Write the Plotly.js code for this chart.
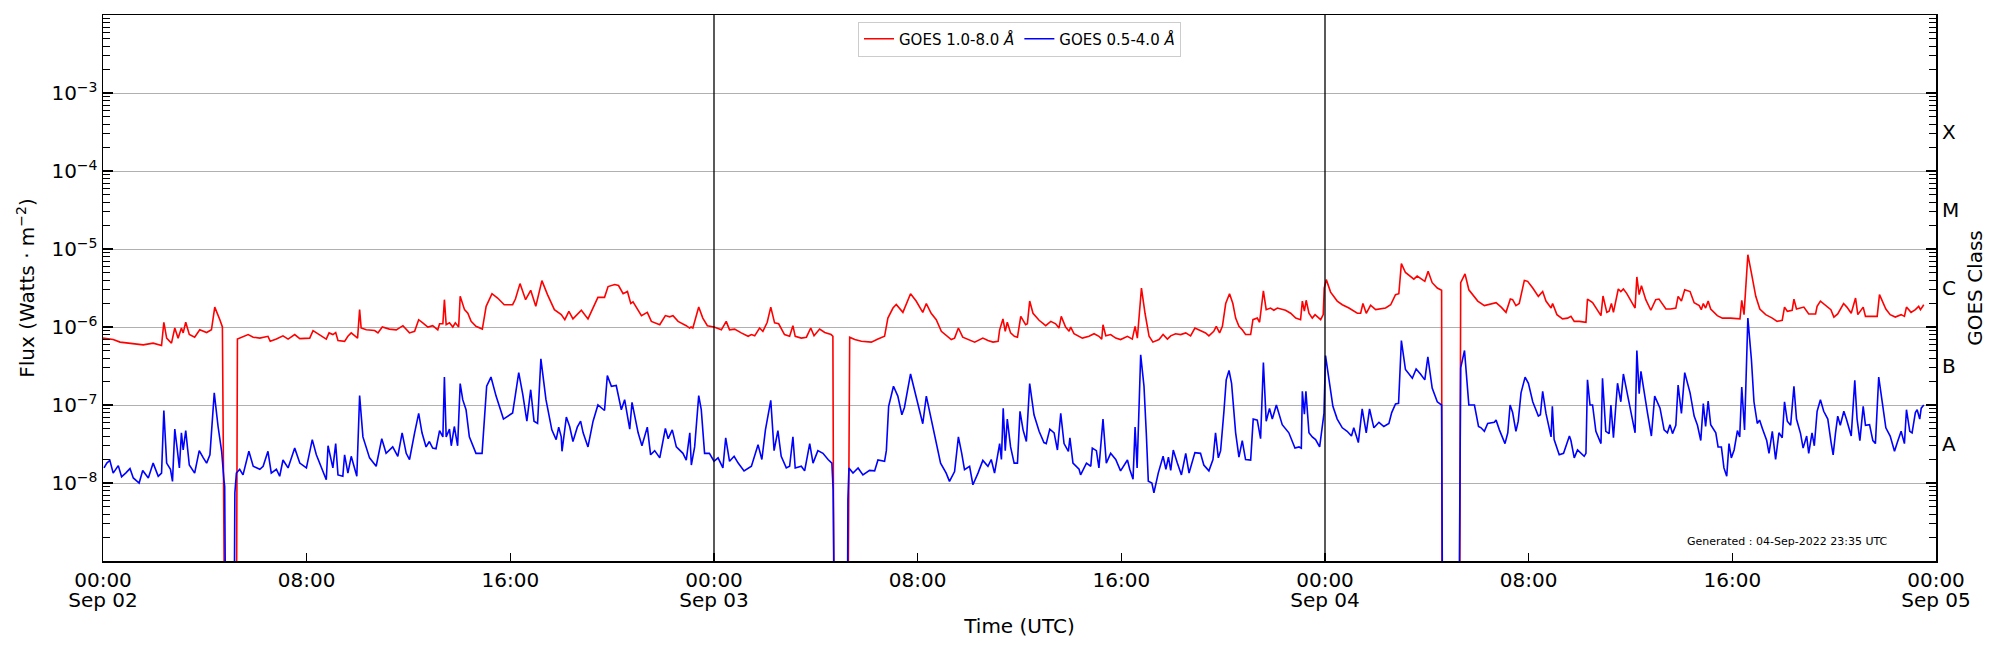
<!DOCTYPE html>
<html>
<head>
<meta charset="utf-8">
<script src="https://cdn.plot.ly/plotly-3.0.1.min.js"></script>
<style>html,body{margin:0;padding:0;background:#fff;}#chart{width:2000px;height:650px;}</style>
</head>
<body>
<div id="chart"></div>
<script>
// Hours since 2022-09-02 00:00 UTC, and flux (W/m^2). 1e-10 marks data dropouts (below the axis).
const redHours = [0.0,0.4,0.67,1.19,1.58,1.97,2.3,2.39,2.5,2.69,2.82,2.95,3.08,3.15,3.25,3.39,3.6,3.8,4.07,4.26,4.39,4.59,4.69,4.78,5.24,5.28,5.37,5.7,5.9,6.16,6.48,6.57,6.81,7.07,7.27,7.53,7.73,8.12,8.25,8.51,8.77,8.88,9.03,9.14,9.23,9.49,9.62,9.75,10.0,10.08,10.14,10.34,10.67,10.8,10.97,11.25,11.52,11.78,12.04,12.24,12.4,12.56,12.76,12.95,13.15,13.22,13.35,13.41,13.48,13.61,13.74,13.84,13.97,14.03,14.2,14.33,14.46,14.65,14.9,15.05,15.28,15.5,15.76,16.09,16.2,16.38,16.6,16.8,17.0,17.24,17.46,17.73,17.9,18.0,18.14,18.3,18.46,18.79,19.05,19.44,19.7,19.84,20.1,20.25,20.43,20.6,20.73,20.82,21.15,21.38,21.54,21.87,22.09,22.26,22.39,22.59,22.91,23.04,23.1,23.17,23.4,23.56,23.74,24.0,24.29,24.48,24.61,24.81,25.07,25.34,25.47,25.6,25.79,25.92,26.09,26.23,26.38,26.54,26.77,26.97,27.1,27.19,27.43,27.63,27.8,27.93,28.15,28.35,28.6,28.67,28.71,29.26,29.33,29.53,29.79,30.18,30.44,30.7,30.83,31.03,31.16,31.42,31.72,31.94,32.2,32.34,32.53,32.73,32.93,33.32,33.45,33.6,33.77,33.97,34.24,34.56,34.76,34.96,35.16,35.22,35.35,35.44,35.52,35.65,35.8,35.92,36.05,36.24,36.31,36.4,36.53,36.77,37.03,37.23,37.42,37.55,37.64,37.81,37.95,38.01,38.14,38.47,38.73,38.93,39.12,39.23,39.28,39.39,39.58,39.78,39.97,40.24,40.43,40.54,40.63,40.79,40.93,41.09,41.24,41.48,41.64,41.81,41.94,42.13,42.33,42.53,42.72,42.89,43.11,43.31,43.44,43.63,43.73,43.86,43.97,44.1,44.25,44.38,44.49,44.62,44.75,44.88,45.08,45.17,45.34,45.43,45.58,45.69,45.86,45.99,46.13,46.45,46.65,46.85,47.04,47.11,47.19,47.26,47.37,47.5,47.61,47.83,47.93,47.97,48.05,48.22,48.48,48.68,48.94,49.27,49.4,49.49,49.62,49.79,49.99,50.38,50.58,50.77,50.9,51.0,51.16,51.49,51.62,51.82,51.92,52.05,52.21,52.41,52.58,52.6,53.29,53.33,53.5,53.65,53.87,54.0,54.26,54.52,54.72,54.92,55.11,55.28,55.37,55.5,55.63,55.83,55.96,56.16,56.38,56.55,56.68,56.88,56.94,57.11,57.33,57.53,57.66,57.79,57.99,58.25,58.31,58.51,58.68,58.84,58.92,59.07,59.16,59.25,59.33,59.52,59.62,59.72,59.85,60.01,60.18,60.25,60.34,60.43,60.6,60.8,60.99,61.12,61.39,61.58,61.78,61.87,62.0,62.13,62.34,62.5,62.7,62.78,62.86,62.95,63.05,63.15,63.41,63.61,63.93,64.3,64.37,64.46,64.61,64.75,64.92,65.08,65.31,65.57,65.76,65.96,66.05,66.16,66.35,66.42,66.52,66.81,67.0,67.27,67.33,67.46,67.66,67.87,67.99,68.14,68.37,68.5,68.67,68.84,68.93,69.06,69.14,69.23,69.42,69.69,69.78,70.03,70.2,70.4,70.63,70.76,70.84,71.02,71.19,71.32,71.39,71.52];
const redFlux = [7.2e-7,6.9e-7,6.4e-7,6.1e-7,5.9e-7,6.2e-7,5.8e-7,1.15e-6,7.2e-7,6.2e-7,9.7e-7,7.2e-7,9.7e-7,8.4e-7,1.15e-6,8.0e-7,7.4e-7,9.2e-7,8.5e-7,9.2e-7,1.8e-6,1.24e-6,1.0e-6,1e-10,1e-10,7.0e-7,7.2e-7,8.0e-7,7.4e-7,7.2e-7,7.6e-7,6.55e-7,7.0e-7,7.7e-7,7.0e-7,8.0e-7,7.1e-7,7.2e-7,9.0e-7,8.0e-7,7.0e-7,8.4e-7,8.0e-7,8.5e-7,6.7e-7,6.55e-7,7.6e-7,8.4e-7,7.2e-7,1.67e-6,9.7e-7,9.2e-7,9.0e-7,8.4e-7,1.0e-6,9.4e-7,9.2e-7,1.04e-6,8.4e-7,8.8e-7,1.24e-6,1.13e-6,1.0e-6,1.04e-6,9.2e-7,1.1e-6,1.1e-6,2.24e-6,1.07e-6,1.13e-6,1.0e-6,1.13e-6,1.0e-6,2.47e-6,1.67e-6,1.5e-6,1.18e-6,1.02e-6,9.4e-7,1.84e-6,2.67e-6,2.35e-6,1.93e-6,1.93e-6,2.28e-6,3.6e-6,2.24e-6,2.95e-6,1.84e-6,3.93e-6,2.6e-6,1.67e-6,1.5e-6,1.44e-6,1.24e-6,1.59e-6,1.27e-6,1.64e-6,1.27e-6,2.4e-6,2.4e-6,3.3e-6,3.5e-6,3.4e-6,2.67e-6,2.85e-6,2.0e-6,2.1e-6,1.4e-6,1.54e-6,1.18e-6,1.07e-6,1.4e-6,1.35e-6,1.4e-6,1.18e-6,1.04e-6,9.7e-7,1.0e-6,9.7e-7,1.8e-6,1.3e-6,1.04e-6,1.0e-6,9.2e-7,1.18e-6,9.2e-7,9.4e-7,8.4e-7,7.6e-7,8.0e-7,7.7e-7,9.7e-7,8.8e-7,1.15e-6,1.8e-6,1.13e-6,1.1e-6,8.0e-7,7.6e-7,1.04e-6,7.6e-7,7.2e-7,7.4e-7,9.7e-7,7.7e-7,9.4e-7,8.5e-7,8.0e-7,7.6e-7,1e-10,1e-10,7.4e-7,6.9e-7,6.55e-7,6.4e-7,7.0e-7,7.6e-7,1.3e-6,1.75e-6,1.95e-6,1.54e-6,2.67e-6,2.15e-6,1.54e-6,2.0e-6,1.5e-6,1.24e-6,8.8e-7,6.9e-7,7.2e-7,9.7e-7,7.4e-7,7.0e-7,6.4e-7,7.2e-7,6.7e-7,6.4e-7,6.55e-7,9.2e-7,1.27e-6,8.8e-7,1.15e-6,8.4e-7,7.6e-7,7.4e-7,1.37e-6,1.07e-6,1.1e-6,2.15e-6,1.5e-6,1.22e-6,1.04e-6,1.18e-6,1.1e-6,9.7e-7,1.37e-6,1.0e-6,8.8e-7,1.0e-6,8.2e-7,7.2e-7,7.6e-7,8.2e-7,7.6e-7,7.0e-7,1.07e-6,7.7e-7,8.0e-7,7.2e-7,6.9e-7,7.6e-7,7.0e-7,1.02e-6,7.2e-7,3.16e-6,1.5e-6,7.6e-7,6.4e-7,6.9e-7,8.0e-7,7.0e-7,7.7e-7,8.2e-7,8.0e-7,8.4e-7,7.7e-7,9.7e-7,9.0e-7,8.4e-7,7.7e-7,8.8e-7,1.02e-6,8.4e-7,1.02e-6,2.0e-6,2.67e-6,2.0e-6,1.3e-6,1.02e-6,9.2e-7,8.0e-7,8.0e-7,1.24e-6,1.3e-6,1.15e-6,2.9e-6,1.67e-6,1.75e-6,1.64e-6,1.75e-6,1.64e-6,1.5e-6,1.3e-6,1.24e-6,2.15e-6,1.6e-6,2.2e-6,1.5e-6,1.3e-6,1.44e-6,1.24e-6,1.44e-6,3.16e-6,4.05e-6,2.8e-6,2.15e-6,1.93e-6,1.75e-6,1.5e-6,1.5e-6,2.0e-6,1.5e-6,1.9e-6,1.67e-6,1.75e-6,1.93e-6,2.6e-6,2.67e-6,6.5e-6,5.0e-6,4.1e-6,4.5e-6,4.1e-6,3.85e-6,5.2e-6,3.7e-6,3.16e-6,2.95e-6,1e-10,1e-10,3.7e-6,4.8e-6,3.0e-6,2.47e-6,2.15e-6,1.88e-6,2.0e-6,2.05e-6,1.8e-6,1.54e-6,2.28e-6,2.24e-6,1.88e-6,2.0e-6,3.96e-6,3.85e-6,3.16e-6,2.47e-6,2.85e-6,2.15e-6,1.75e-6,2.0e-6,1.44e-6,1.27e-6,1.3e-6,1.37e-6,1.18e-6,1.18e-6,1.15e-6,2.28e-6,2.05e-6,1.7e-6,1.4e-6,2.5e-6,1.54e-6,1.59e-6,2.0e-6,1.54e-6,3.07e-6,2.85e-6,3.07e-6,2.7e-6,2.15e-6,1.75e-6,4.38e-6,2.6e-6,3.38e-6,2.24e-6,1.64e-6,2.24e-6,2.28e-6,1.7e-6,1.7e-6,1.75e-6,2.47e-6,2.15e-6,3.0e-6,2.85e-6,2.05e-6,1.88e-6,1.67e-6,2.0e-6,1.75e-6,2.15e-6,1.7e-6,1.4e-6,1.3e-6,1.3e-6,1.27e-6,2.2e-6,1.44e-6,8.45e-6,4.9e-6,2.47e-6,1.7e-6,1.44e-6,1.3e-6,1.18e-6,1.22e-6,1.8e-6,1.59e-6,1.64e-6,2.28e-6,1.7e-6,1.8e-6,1.47e-6,1.47e-6,1.84e-6,2.15e-6,1.9e-6,1.67e-6,1.34e-6,1.47e-6,2.0e-6,1.8e-6,1.5e-6,2.35e-6,1.44e-6,1.64e-6,1.8e-6,1.37e-6,1.37e-6,1.37e-6,2.6e-6,1.7e-6,1.44e-6,1.34e-6,1.44e-6,1.37e-6,1.8e-6,1.54e-6,1.67e-6,1.84e-6,1.67e-6,1.93e-6];

const blueHours = [0.04,0.15,0.27,0.4,0.6,0.73,0.9,1.06,1.19,1.42,1.56,1.78,1.97,2.17,2.3,2.39,2.5,2.65,2.73,2.82,2.92,3.0,3.08,3.15,3.25,3.39,3.6,3.78,3.94,4.07,4.2,4.37,4.52,4.66,4.75,4.78,4.82,5.15,5.18,5.24,5.37,5.5,5.73,5.9,6.16,6.29,6.48,6.61,6.81,6.94,7.07,7.27,7.53,7.73,7.99,8.22,8.38,8.58,8.77,8.84,9.03,9.14,9.23,9.42,9.49,9.62,9.75,9.97,10.08,10.21,10.47,10.73,10.95,11.12,11.25,11.38,11.58,11.75,11.91,12.04,12.24,12.4,12.53,12.69,12.82,12.95,13.08,13.22,13.35,13.41,13.48,13.61,13.68,13.8,13.93,14.03,14.13,14.26,14.39,14.65,14.89,14.98,15.07,15.24,15.44,15.73,16.09,16.2,16.33,16.49,16.65,16.8,16.93,17.07,17.2,17.4,17.63,17.8,17.9,18.0,18.03,18.2,18.33,18.46,18.63,18.76,18.86,19.05,19.25,19.44,19.7,19.81,19.97,20.16,20.36,20.49,20.69,20.78,21.02,21.17,21.38,21.51,21.67,21.87,22.09,22.2,22.36,22.52,22.78,22.91,23.05,23.11,23.24,23.4,23.5,23.63,23.82,24.0,24.16,24.35,24.46,24.61,24.79,24.95,25.18,25.47,25.73,25.88,26.02,26.23,26.36,26.51,26.64,26.84,26.97,27.1,27.19,27.43,27.56,27.76,27.89,28.08,28.28,28.48,28.63,28.68,28.74,29.24,29.26,29.3,29.46,29.66,29.85,30.11,30.31,30.44,30.7,30.77,30.86,31.05,31.22,31.38,31.48,31.72,31.94,32.2,32.34,32.53,32.69,32.9,33.12,33.25,33.45,33.6,33.73,33.84,34.04,34.17,34.37,34.56,34.76,34.89,35.02,35.22,35.29,35.36,35.44,35.52,35.65,35.79,35.92,36.02,36.14,36.27,36.4,36.57,36.77,36.96,37.05,37.19,37.36,37.49,37.62,37.75,37.92,37.98,38.1,38.34,38.4,38.63,38.8,38.86,39.02,39.12,39.28,39.41,39.58,39.78,39.97,40.1,40.24,40.33,40.46,40.54,40.62,40.76,40.89,40.98,41.06,41.2,41.28,41.45,41.64,41.75,41.85,41.94,42.04,42.2,42.36,42.53,42.66,42.89,43.11,43.24,43.44,43.6,43.7,43.81,43.9,44.03,44.12,44.23,44.33,44.49,44.62,44.75,44.88,45.08,45.18,45.34,45.47,45.58,45.69,45.82,45.93,46.09,46.32,46.58,46.82,46.98,47.07,47.11,47.19,47.25,47.37,47.5,47.63,47.79,47.89,47.96,48.02,48.15,48.31,48.48,48.68,48.87,49.04,49.13,49.31,49.46,49.62,49.75,49.92,50.12,50.31,50.51,50.62,50.77,50.89,51.0,51.16,51.43,51.58,51.75,51.92,52.04,52.21,52.41,52.58,52.62,53.26,53.33,53.48,53.65,53.87,54.03,54.13,54.26,54.39,54.65,54.72,54.85,55.07,55.18,55.27,55.37,55.5,55.59,55.7,55.86,55.99,56.16,56.38,56.46,56.55,56.68,56.88,56.93,57.0,57.2,57.37,57.6,57.66,57.79,57.92,58.18,58.25,58.31,58.41,58.51,58.64,58.84,58.9,59.03,59.16,59.23,59.33,59.49,59.62,59.72,59.9,60.03,60.18,60.25,60.34,60.41,60.54,60.67,60.82,60.95,61.16,61.32,61.45,61.55,61.65,61.78,61.87,62.0,62.13,62.34,62.5,62.63,62.76,62.86,62.95,63.05,63.15,63.35,63.44,63.57,63.67,63.78,63.87,63.96,64.07,64.2,64.29,64.37,64.48,64.61,64.75,64.85,64.98,65.07,65.18,65.35,65.44,65.57,65.7,65.83,65.96,66.05,66.16,66.29,66.42,66.52,66.68,66.78,66.92,67.0,67.13,67.22,67.33,67.46,67.59,67.75,67.88,67.96,68.05,68.14,68.24,68.38,68.48,68.67,68.81,68.9,69.01,69.14,69.23,69.39,69.52,69.62,69.75,69.88,70.03,70.2,70.37,70.48,70.63,70.76,70.84,70.97,71.06,71.19,71.26,71.36,71.42,71.52];
const blueFlux = [1.56e-8,1.8e-8,1.95e-8,1.34e-8,1.67e-8,1.2e-8,1.35e-8,1.53e-8,1.16e-8,1.0e-8,1.45e-8,1.16e-8,1.8e-8,1.22e-8,1.34e-8,8.5e-8,1.8e-8,1.5e-8,1.05e-8,4.9e-8,2.65e-8,1.56e-8,4.4e-8,2.65e-8,4.7e-8,1.7e-8,1.34e-8,2.6e-8,2.1e-8,1.8e-8,2.3e-8,1.43e-7,5.3e-8,2.55e-8,1.1e-8,9e-9,1e-10,1e-10,7.5e-9,1.34e-8,1.5e-8,1.27e-8,2.55e-8,1.64e-8,1.5e-8,1.64e-8,2.55e-8,1.34e-8,1.5e-8,1.22e-8,1.97e-8,1.56e-8,2.8e-8,1.8e-8,1.56e-8,3.6e-8,2.3e-8,1.56e-8,1.1e-8,3.0e-8,1.56e-8,3.2e-8,1.27e-8,1.22e-8,2.3e-8,1.34e-8,2.2e-8,1.22e-8,1.32e-7,3.9e-8,2.1e-8,1.64e-8,3.7e-8,2.4e-8,2.65e-8,2.9e-8,2.2e-8,4.4e-8,2.4e-8,2.0e-8,4.4e-8,7.8e-8,4.4e-8,2.9e-8,3.4e-8,2.8e-8,2.75e-8,4.7e-8,3.9e-8,2.28e-7,3.9e-8,4.9e-8,3.0e-8,5.3e-8,3.0e-8,1.88e-7,1.17e-7,8.7e-8,3.9e-8,2.4e-8,2.4e-8,6.4e-8,1.74e-7,2.28e-7,1.3e-7,6.6e-8,7.9e-8,1.36e-7,2.6e-7,1.36e-7,6.2e-8,1.57e-7,6.2e-8,5.8e-8,3.9e-7,1.17e-7,4.8e-8,3.6e-8,5.2e-8,3.9e-8,2.55e-8,7.0e-8,5.3e-8,3.4e-8,5.2e-8,6.2e-8,4.4e-8,2.9e-8,6.2e-8,1.0e-7,8.5e-8,2.38e-7,1.74e-7,1.78e-7,8.7e-8,1.17e-7,4.9e-8,1.08e-7,4.4e-8,3.0e-8,5.2e-8,2.3e-8,2.6e-8,2.1e-8,5.0e-8,3.7e-8,4.8e-8,2.9e-8,2.4e-8,1.97e-8,4.4e-8,1.7e-8,2.9e-8,1.32e-7,8.7e-8,2.4e-8,2.4e-8,1.9e-8,2.1e-8,1.56e-8,3.8e-8,1.9e-8,2.2e-8,1.8e-8,1.43e-8,1.64e-8,3.1e-8,2.0e-8,4.8e-8,1.15e-7,2.6e-8,4.7e-8,2.2e-8,1.56e-8,1.64e-8,3.9e-8,1.56e-8,1.64e-8,1.43e-8,3.2e-8,1.8e-8,2.6e-8,2.4e-8,2.0e-8,1.8e-8,8.2e-9,1e-10,1e-10,6.1e-9,1.56e-8,1.34e-8,1.56e-8,1.27e-8,1.45e-8,1.43e-8,1.97e-8,1.9e-8,2.6e-8,9.6e-8,1.74e-7,1.3e-7,7.5e-8,9.3e-8,2.5e-7,1.3e-7,5.75e-8,1.3e-7,6.6e-8,3.7e-8,1.8e-8,1.34e-8,1.05e-8,1.4e-8,3.9e-8,2.4e-8,1.48e-8,1.64e-8,9.5e-9,1.34e-8,1.95e-8,1.64e-8,2.0e-8,1.34e-8,3.2e-8,2.0e-8,9.1e-8,2.6e-8,6.6e-8,2.9e-8,1.8e-8,1.8e-8,8.3e-8,4.8e-8,3.4e-8,1.88e-7,7.5e-8,4.6e-8,3.3e-8,3.2e-8,4.9e-8,4.4e-8,2.65e-8,7.8e-8,3.2e-8,2.55e-8,3.8e-8,1.8e-8,1.5e-8,1.27e-8,1.8e-8,1.64e-8,2.8e-8,2.6e-8,1.56e-8,6.6e-8,1.8e-8,2.4e-8,2.0e-8,1.43e-8,1.64e-8,1.97e-8,1.5e-8,1.12e-8,5.2e-8,1.56e-8,4.4e-7,1.74e-7,4.4e-8,1.05e-8,1.0e-8,7.5e-9,1.34e-8,2.2e-8,1.5e-8,2.15e-8,1.45e-8,2.65e-8,1.8e-8,1.27e-8,2.4e-8,1.34e-8,2.45e-8,2.4e-8,1.7e-8,1.43e-8,2.0e-8,4.4e-8,2.1e-8,2.6e-8,8.3e-8,2.1e-7,2.77e-7,1.9e-7,4.4e-8,2.15e-8,3.5e-8,2.0e-8,1.97e-8,6.6e-8,6.4e-8,3.7e-8,3.5e-7,6.2e-8,9.0e-8,6.6e-8,1.0e-7,5.6e-8,4.4e-8,2.8e-8,2.9e-8,2.8e-8,1.5e-7,7.6e-8,1.5e-7,4.4e-8,3.9e-8,3.6e-8,2.9e-8,4.8e-8,7.8e-8,4.3e-7,2.1e-7,9.6e-8,6.6e-8,5.1e-8,4.6e-8,4.0e-8,5.1e-8,3.3e-8,8.9e-8,4.4e-8,8.9e-8,5.1e-8,6.0e-8,5.3e-8,5.8e-8,8.0e-8,1.03e-7,1.05e-7,6.7e-7,2.85e-7,2.2e-7,2.9e-7,2.5e-7,2.1e-7,4.15e-7,1.65e-7,1.1e-7,1.0e-7,1e-10,1e-10,3.0e-7,5.0e-7,1.0e-7,1.0e-7,5.3e-8,5.1e-8,4.6e-8,5.8e-8,6.0e-8,6.4e-8,4.8e-8,3.2e-8,4.4e-8,1.0e-7,8.0e-8,4.6e-8,6.2e-8,1.43e-7,2.28e-7,1.9e-7,1.1e-7,7.2e-8,7.5e-8,1.5e-7,7.8e-8,3.9e-8,9.6e-8,3.6e-8,2.3e-8,2.4e-8,4.0e-8,3.5e-8,2.1e-8,2.65e-8,2.2e-8,2.4e-8,2.1e-7,1.0e-7,1.0e-7,4.6e-8,3.2e-8,2.2e-7,4.6e-8,4.3e-8,1.0e-7,3.8e-8,1.9e-7,1.1e-7,2.5e-7,1.28e-7,7.8e-8,4.4e-8,5.0e-7,1.4e-7,2.7e-7,1.36e-7,7.8e-8,4.0e-8,1.3e-7,9.1e-8,4.8e-8,4.4e-8,5.6e-8,4.3e-8,5.5e-8,1.8e-7,7.8e-8,2.6e-7,1.43e-7,7.2e-8,5.5e-8,3.5e-8,1.04e-7,5.3e-8,1.12e-7,5.6e-8,4.4e-8,2.9e-8,2.9e-8,1.56e-8,1.22e-8,3.2e-8,2.1e-8,2.65e-8,4.7e-8,3.9e-8,1.7e-7,4.8e-8,1.3e-6,3.8e-7,1.1e-7,5.8e-8,6.4e-8,5.0e-8,3.5e-8,2.4e-8,4.6e-8,2.0e-8,4.4e-8,3.8e-8,1.1e-7,6.2e-8,5.5e-8,1.74e-7,6.6e-8,4.3e-8,2.8e-8,4.0e-8,2.4e-8,4.4e-8,3.0e-8,8.3e-8,1.17e-7,8.3e-8,6.6e-8,3.3e-8,2.3e-8,4.3e-8,7.2e-8,5.5e-8,8.3e-8,6.6e-8,4.0e-8,2.07e-7,6.6e-8,3.5e-8,9.6e-8,5.5e-8,5.6e-8,3.5e-8,3.2e-8,2.28e-7,1.2e-7,5.1e-8,4.0e-8,2.55e-8,3.3e-8,4.6e-8,3.2e-8,8.7e-8,4.6e-8,4.4e-8,8.0e-8,8.7e-8,6.6e-8,9.1e-8,1.0e-7];

const xTickHours = [0,8,16,24,32,40,48,56,64,72];
const xTickText = ['00:00','08:00','16:00','00:00','08:00','16:00','00:00','08:00','16:00','00:00'];
const dayHours = [0,24,48,72];
const dayText = ['Sep 02','Sep 03','Sep 04','Sep 05'];
const dayLineHours = [24,48];
const yTickVals = [1e-8,1e-7,1e-6,1e-5,1e-4,1e-3];
const yTickText = ['10<sup>−8</sup>','10<sup>−7</sup>','10<sup>−6</sup>','10<sup>−5</sup>','10<sup>−4</sup>','10<sup>−3</sup>'];
const classLetters = ['A','B','C','M','X'];
const classLevels = [1e-8,1e-7,1e-6,1e-5,1e-4];
const legendNames = ['GOES 1.0-8.0 <i>Å</i>','GOES 0.5-4.0 <i>Å</i>'];
const generatedText = 'Generated : 04-Sep-2022 23:35 UTC';

const T0 = Date.UTC(2022,8,2);
function toDate(h){ return new Date(T0 + h*3600000).toISOString().slice(0,19).replace('T',' '); }

const minorVals = [];
for (let e=-9; e<-2; e++) for (let m=2; m<=9; m++) minorVals.push(m*Math.pow(10,e));
const classPos = classLevels.map(v => v*Math.sqrt(10));

const traces = [
  {x: redHours.map(toDate), y: redFlux, type:'scatter', mode:'lines', name: legendNames[0],
   line:{color:'#ff0000', width:1.6}},
  {x: blueHours.map(toDate), y: blueFlux, type:'scatter', mode:'lines', name: legendNames[1],
   line:{color:'#0000ff', width:1.6}, xaxis:'x2', yaxis:'y2'}
];

const fontFam = 'DejaVu Sans, sans-serif';
const xRange = [toDate(0), toDate(72)];
const layout = {
  width:2000, height:650,
  margin:{l:103, r:64, t:15, b:89},
  paper_bgcolor:'#fff', plot_bgcolor:'#fff',
  font:{family:fontFam, color:'#000', size:20},
  showlegend:true,
  legend:{orientation:'h', x:0.5, xanchor:'center', y:0.988, yanchor:'top',
          bgcolor:'#fff', bordercolor:'#cccccc', borderwidth:1, font:{size:15, family:fontFam}},
  xaxis:{type:'date', range:xRange,
         tickmode:'array', tickvals: xTickHours.map(toDate), ticktext: xTickText,
         ticks:'inside', ticklen:8, tickwidth:1.2, tickcolor:'#000',
         showline:true, linecolor:'#000', linewidth:1.5, mirror:true,
         showgrid:false, zeroline:false, tickfont:{size:20},
         title:{text:'Time (UTC)', font:{size:20}, standoff:28}},
  xaxis2:{type:'date', range:xRange, overlaying:'x', side:'bottom',
         tickmode:'array', tickvals: dayHours.map(toDate), ticktext: dayText,
         ticks:'', ticklabelstandoff:25, showline:false, showgrid:false, zeroline:false, tickfont:{size:20}},
  yaxis:{type:'log', range:[-9,-2], tickmode:'array', tickvals:yTickVals, ticktext:yTickText,
         ticks:'inside', ticklen:10, tickwidth:1.2, tickcolor:'#000',
         minor:{tickmode:'array', tickvals:minorVals, ticks:'inside', ticklen:7, tickwidth:1, tickcolor:'#000', showgrid:false},
         showline:true, linecolor:'#000', linewidth:1.5, mirror:'allticks',
         showgrid:true, gridcolor:'#b0b0b0', gridwidth:1, zeroline:false, tickfont:{size:20},
         title:{text:'Flux (Watts · m<sup>−2</sup>)', font:{size:20}, standoff:11}},
  yaxis2:{type:'log', range:[-9,-2], overlaying:'y', side:'right', anchor:'x',
          tickmode:'array', tickvals:classPos, ticktext:classLetters, ticks:'inside', ticklen:0, ticklabelstandoff:5,
          minor:{tickmode:'array', tickvals:minorVals, ticks:'inside', ticklen:7, tickwidth:1, tickcolor:'#000', showgrid:false},
          showgrid:false, zeroline:false, showline:false, tickfont:{size:20},
          title:{text:'GOES Class', font:{size:20}, standoff:9}},
  shapes: dayLineHours.map(h => ({type:'line', xref:'x', yref:'paper', x0:toDate(h), x1:toDate(h), y0:0, y1:1,
          line:{color:'#000', width:1.3}})),
  annotations:[{text:generatedText, xref:'paper', yref:'paper', x:0.975, y:0.02, xanchor:'right', yanchor:'bottom',
                showarrow:false, font:{size:11, family:fontFam}}]
};

Plotly.newPlot('chart', traces, layout, {displayModeBar:false, staticPlot:true});
</script>
</body>
</html>
